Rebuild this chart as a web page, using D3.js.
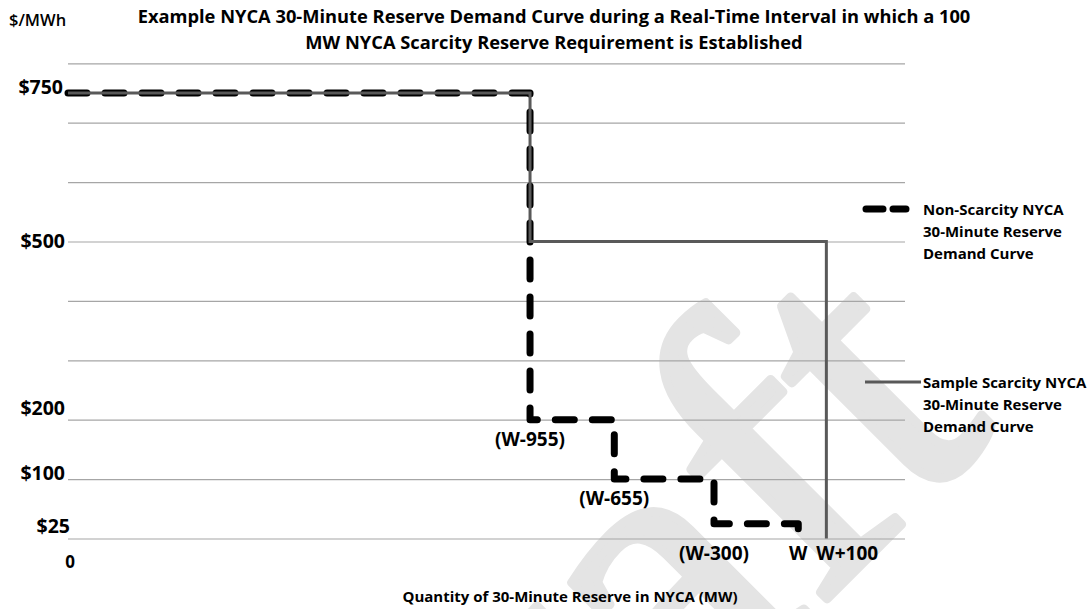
<!DOCTYPE html>
<html>
<head>
<meta charset="utf-8">
<script src="https://cdn.jsdelivr.net/npm/d3@7"></script>
<style>
body { margin: 0; background: #fff; }
svg text { font-family: "Open Sans", sans-serif; font-weight: bold; fill: #000; }
</style>
</head>
<body>
<div id="chart"></div>
<script>
// W is not given in the source, any value works for the shape
let W = 2600;

// step breakpoints, drawn with curveStepAfter
let nonScarcityQty = [0, W - 955, W - 655, W - 300, W];
let nonScarcityPrice = [750, 200, 100, 25, 0];
let scarcityQty = [0, W - 955, W + 100];
let scarcityPrice = [750, 500, 0];

let gridPrices = d3.range(0, 801, 100);
let priceTicks = [750, 500, 200, 100, 25];
let priceLabels = ["$750", "$500", "$200", "$100", "$25"];
let qtyTicks = [W - 955, W - 655, W - 300, W, W + 100];
let qtyLabels = ["(W-955)", "(W-655)", "(W-300)", "W", "W+100"];
let qtyLabelLevel = [200, 100, 0, 0, 0];

let seriesNames = [
    ["Non-Scarcity NYCA", "30-Minute Reserve", "Demand Curve"],
    ["Sample Scarcity NYCA", "30-Minute Reserve", "Demand Curve"]
];
let titleLines = [
    "Example NYCA 30-Minute Reserve Demand Curve during a Real-Time Interval in which a 100",
    "MW NYCA Scarcity Reserve Requirement is Established"
];

let dimension = {
    width: 1089,
    height: 609,
    left: 68,
    right: 905,
    top: 63.3,
    bottom: 538.5
};

// small hand nudges for the price labels, the source places them loosely
let priceNudge = { 750: -6, 500: 0, 200: -11, 100: -6, 25: 3 };

let svg = d3.select("#chart")
    .append("svg")
    .attr("width", dimension.width)
    .attr("height", dimension.height);

let X = d3.scaleLinear()
    .domain([0, 2980])
    .range([dimension.left, dimension.right]);
let Y = d3.scaleLinear()
    .domain([0, 800])
    .range([dimension.bottom, dimension.top]);

// watermark behind everything, stroked a bit to get the heavier weight
svg.append("text")
    .attr("transform", "translate(364,1062) rotate(-45)")
    .style("font-family", "'Liberation Serif', serif")
    .style("font-weight", "normal")
    .style("font-size", "425px")
    .style("fill", "#e4e4e4")
    .style("stroke", "#e4e4e4")
    .style("stroke-width", 9)
    .style("stroke-linejoin", "round")
    .text("Draft");

// gridlines
let grid = svg.append("g")
    .attr("transform", "translate(" + dimension.left + ",0)")
    .call(d3.axisLeft(Y)
        .tickValues(gridPrices)
        .tickSize(-(dimension.right - dimension.left))
        .tickFormat(""));
grid.select(".domain").remove();
grid.selectAll(".tick line")
    .attr("stroke", "#a6a6a6")
    .attr("stroke-width", 1.2);

// price labels
let yLab = svg.append("g")
    .attr("transform", "translate(" + (dimension.left - 3) + ",0)")
    .call(d3.axisLeft(Y)
        .tickValues(priceTicks)
        .tickSize(0)
        .tickPadding(0)
        .tickFormat((d, i) => priceLabels[i]));
yLab.select(".domain").remove();
yLab.selectAll(".tick text")
    .style("font-size", "19.5px")
    .attr("dy", d => (priceNudge[d] / 19.5 + 0.32) + "em")
    .attr("x", d => d == 25 ? 5 : (d == 750 ? -2 : 0));

svg.append("text")
    .attr("x", X(0) + 2)
    .attr("y", Y(0) + 29.5)
    .attr("text-anchor", "middle")
    .style("font-size", "17px")
    .text("0");

svg.append("text")
    .attr("x", 9)
    .attr("y", 26)
    .style("font-size", "16.5px")
    .style("font-weight", "600")
    .text("$/MWh");

let line = d3.line()
    .x(d => X(d[0]))
    .y(d => Y(d[1]))
    .curve(d3.curveStepAfter);

svg.append("path")
    .datum(d3.zip(nonScarcityQty, nonScarcityPrice))
    .attr("d", line)
    .attr("fill", "none")
    .attr("stroke", "#000")
    .attr("stroke-width", 7)
    .attr("stroke-linecap", "round")
    .attr("stroke-linejoin", "round")
    .attr("stroke-dasharray", "19,18");

svg.append("path")
    .datum(d3.zip(scarcityQty, scarcityPrice))
    .attr("d", line)
    .attr("fill", "none")
    .attr("stroke", "#595959")
    .attr("stroke-width", 3);

// quantity labels sit under the step they mark
svg.selectAll(".qty-label")
    .data(qtyTicks)
    .enter()
    .append("text")
    .attr("class", "qty-label")
    .attr("x", (d, i) => i == 4 ? X(d) - 10 : X(d))
    .attr("y", (d, i) => Y(qtyLabelLevel[i]) + (qtyLabelLevel[i] > 0 ? 26 : 21))
    .attr("text-anchor", (d, i) => i == 4 ? "start" : "middle")
    .style("font-size", "19px")
    .text((d, i) => qtyLabels[i]);

svg.append("text")
    .attr("x", 570)
    .attr("y", 602)
    .attr("text-anchor", "middle")
    .style("font-size", "15px")
    .text("Quantity of 30-Minute Reserve in NYCA (MW)");

svg.selectAll(".title")
    .data(titleLines)
    .enter()
    .append("text")
    .attr("class", "title")
    .attr("x", 554)
    .attr("y", (d, i) => 23 + i * 26)
    .attr("text-anchor", "middle")
    .style("font-size", "18.3px")
    .text(d => d);

// legend
let legend = svg.append("g");
let legendY = [209, 382];

legend.append("line")
    .attr("x1", 866).attr("x2", 906)
    .attr("y1", legendY[0]).attr("y2", legendY[0])
    .attr("stroke", "#000")
    .attr("stroke-width", 7)
    .attr("stroke-linecap", "round")
    .attr("stroke-dasharray", "17,10");

legend.append("line")
    .attr("x1", 865).attr("x2", 921)
    .attr("y1", legendY[1]).attr("y2", legendY[1])
    .attr("stroke", "#595959")
    .attr("stroke-width", 3);

seriesNames.forEach((lines, s) => {
    legend.selectAll(".leg-" + s)
        .data(lines)
        .enter()
        .append("text")
        .attr("x", 923)
        .attr("y", (d, i) => legendY[s] + 5.5 + i * 22)
        .style("font-size", "15px")
        .text(d => d);
});
</script>
</body>
</html>
